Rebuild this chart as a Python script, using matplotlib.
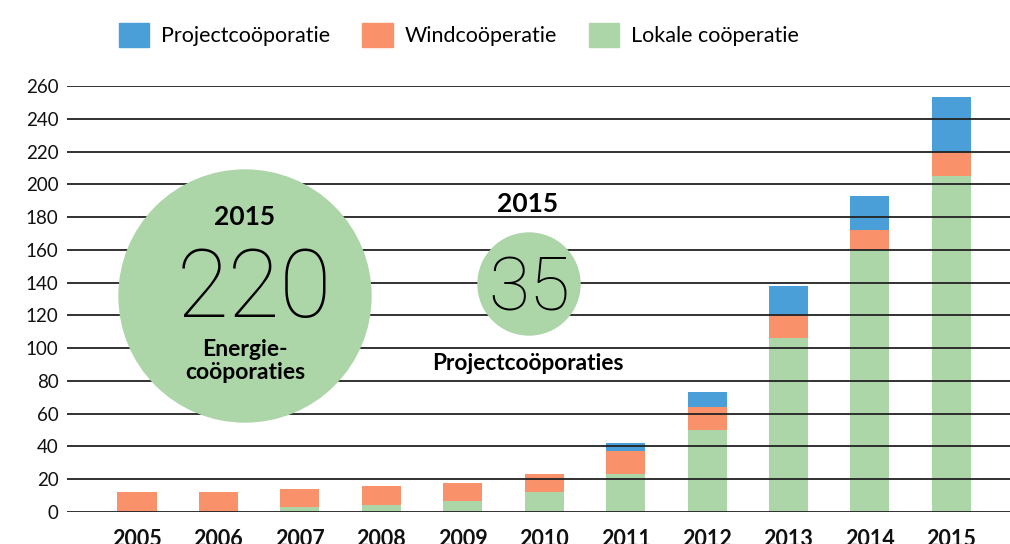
import numpy as np
import matplotlib.pyplot as plt
from matplotlib.patches import Circle, Patch

plt.rcParams['font.family'] = ['Lato', 'DejaVu Sans']

years = ['2005', '2006', '2007', '2008', '2009', '2010', '2011', '2012', '2013', '2014', '2015']
lokaal = [0, 0, 3, 4, 7, 12, 23, 50, 106, 160, 205]
wind = [12, 12, 11, 12, 11, 11, 14, 14, 14, 12, 15]
project = [0, 0, 0, 0, 0, 0, 5, 9, 18, 21, 33]

c_green = '#acd5a8'
c_orange = '#f9926b'
c_blue = '#4a9fd8'

W, H = 1010, 544
fig = plt.figure(figsize=(W / 100, H / 100), dpi=100)
ax = fig.add_axes([67 / W, (H - 512) / H, (1010 - 67) / W, (512 - 86) / H])

x = np.arange(len(years))
lok = np.array(lokaal)
wnd = np.array(wind)
ax.bar(x, lok, 0.48, color=c_green, zorder=1)
ax.bar(x, wnd, 0.48, bottom=lok, color=c_orange, zorder=1)
ax.bar(x, project, 0.48, bottom=lok + wnd, color=c_blue, zorder=1)

ax.set_xlim(-0.86, 10.72)
ax.set_ylim(0, 260)
ax.set_yticks(range(0, 261, 20))
ax.yaxis.grid(True, color='#222222', lw=1.3, zorder=2)
ax.set_axisbelow(False)
for s in ax.spines.values():
    s.set_visible(False)
ax.tick_params(length=0, labelsize=13.5, colors='#111111', pad=6)
ax.set_xticks(x)
ax.set_xticklabels(years, fontweight='bold', fontsize=15.5)
ax.tick_params(axis='x', pad=12)

handles = [Patch(color=c_blue, label='Projectcoöporatie'),
           Patch(color=c_orange, label='Windcoöperatie'),
           Patch(color=c_green, label='Lokale coöperatie')]
fig.legend(handles=handles, loc='center', bbox_to_anchor=(459 / W, 1 - 35 / H), ncol=3,
           frameon=False, fontsize=15.5, handlelength=1.4, handleheight=1.4,
           columnspacing=1.5, handletextpad=0.55)

# overlay with the two circles
ov = fig.add_axes([0, 0, 1, 1])
ov.set_xlim(0, W)
ov.set_ylim(H, 0)
ov.axis('off')
ov.add_patch(Circle((245, 296), 126, color=c_green))
ov.add_patch(Circle((529, 284), 51, color=c_green))
ov.text(245, 217, '2015', ha='center', va='center', fontsize=19, fontweight='bold')
ov.text(254, 291, '220', ha='center', va='center', fontsize=68,
        family=['Roboto', 'DejaVu Sans'], fontweight='light')
ov.text(245, 361, 'Energie-\ncoöporaties', ha='center', va='center', fontsize=16.5,
        fontweight='bold', linespacing=1.15)
ov.text(528, 204, '2015', ha='center', va='center', fontsize=19, fontweight='bold')
ov.text(529, 290, '35', ha='center', va='center', fontsize=54,
        family=['Roboto', 'DejaVu Sans'], fontweight='light')
ov.text(528, 363, 'Projectcoöporaties', ha='center', va='center', fontsize=16.3, fontweight='bold')

fig.savefig('out.png', dpi=100)
